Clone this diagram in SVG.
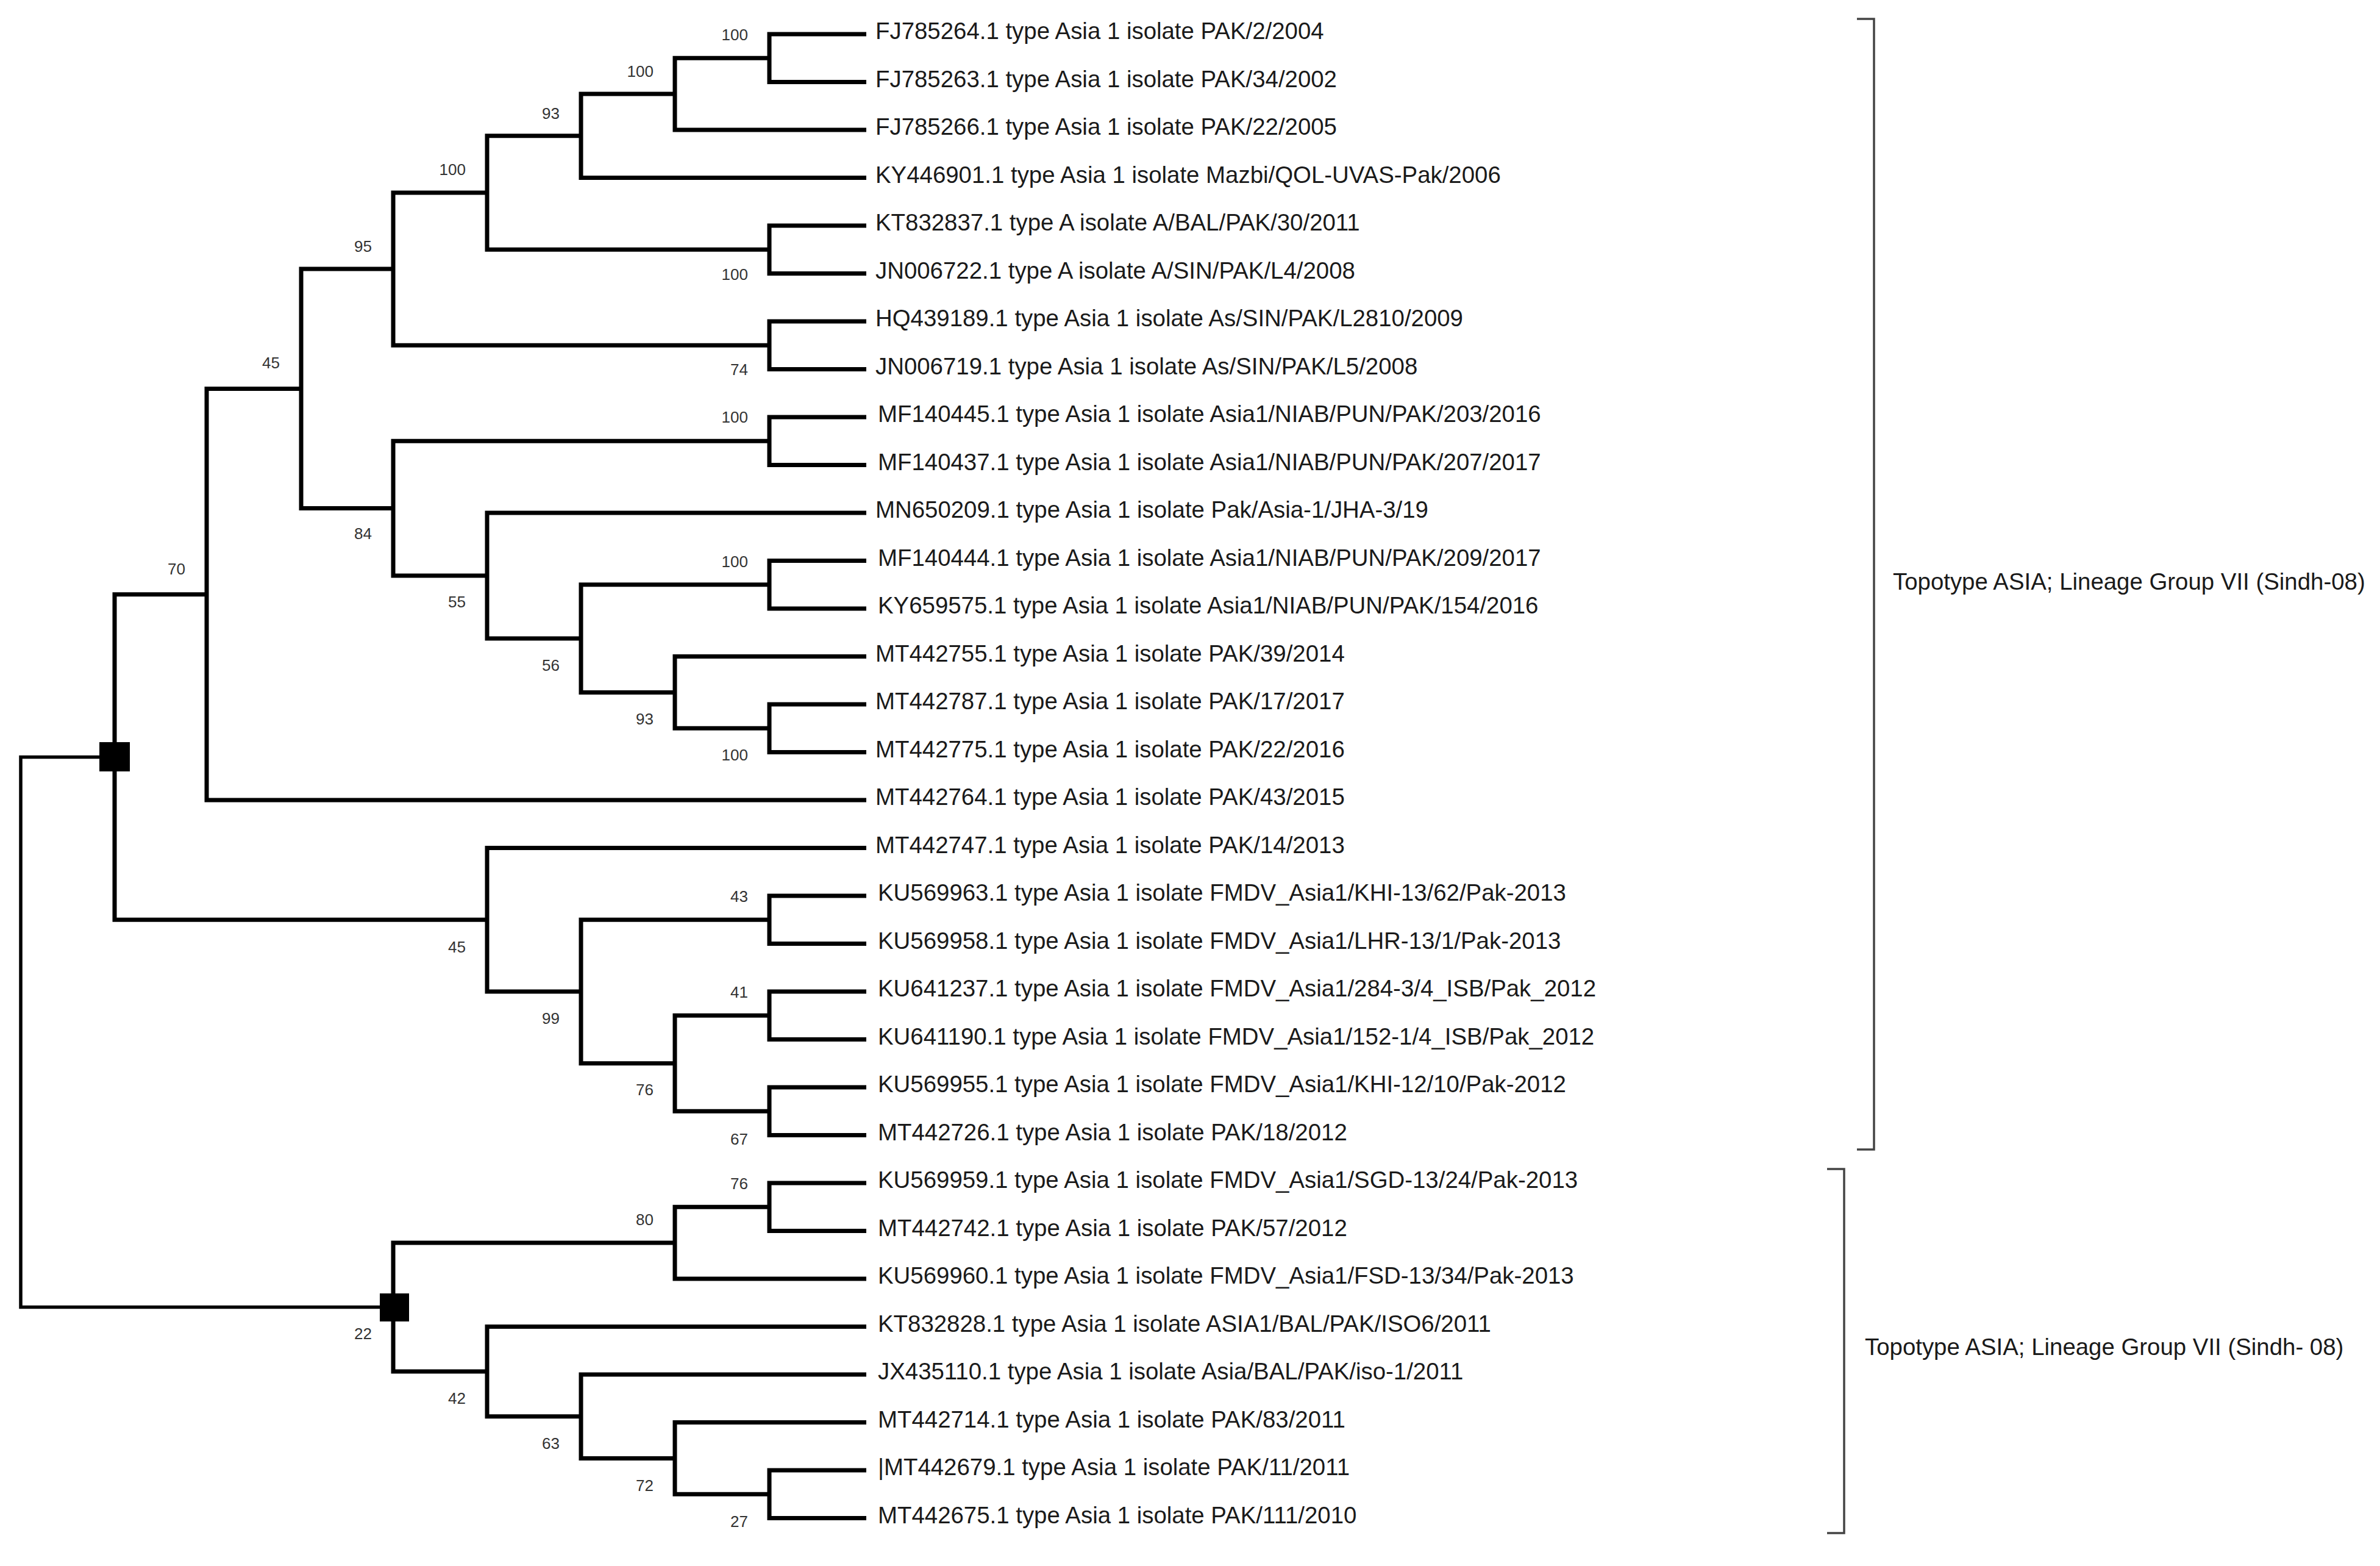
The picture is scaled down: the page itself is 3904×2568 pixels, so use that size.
<svg xmlns="http://www.w3.org/2000/svg" width="3904" height="2568" viewBox="0 0 3904 2568">
<style>
.br{fill:none;stroke:#000;stroke-width:7;stroke-linejoin:miter;stroke-linecap:butt}
.bk{fill:none;stroke:#444;stroke-width:3.5}
.lf{font-family:"Liberation Sans",Arial,sans-serif;font-size:38.4px;fill:#1a1a1a}
.bs{font-family:"Liberation Sans",Arial,sans-serif;font-size:26px;fill:#333;text-anchor:end}
.sq{fill:#000}
</style>
<rect width="3904" height="2568" fill="#fff"/>
<g id="connectors">
<path class="br" d="M1421,56 H1262 V134.5 H1421"/>
<path class="br" d="M1262,95.25 H1107 V213 H1421"/>
<path class="br" d="M1107,154.1 H953 V291.5 H1421"/>
<path class="br" d="M1421,370 H1262 V448.5 H1421"/>
<path class="br" d="M953,222.8 H799 V409.25 H1262"/>
<path class="br" d="M1421,527 H1262 V605.5 H1421"/>
<path class="br" d="M799,316 H645 V566.25 H1262"/>
<path class="br" d="M1421,684 H1262 V762.5 H1421"/>
<path class="br" d="M1421,919.5 H1262 V998 H1421"/>
<path class="br" d="M1421,1155 H1262 V1233.5 H1421"/>
<path class="br" d="M1421,1076.5 H1107 V1194.25 H1262"/>
<path class="br" d="M1262,958.75 H953 V1135.4 H1107"/>
<path class="br" d="M1421,841 H799 V1047.1 H953"/>
<path class="br" d="M1262,723.25 H645 V944 H799"/>
<path class="br" d="M645,441.1 H494 V833.6 H645"/>
<path class="br" d="M494,637.4 H339 V1312 H1421"/>
<path class="br" d="M1421,1469 H1262 V1547.5 H1421"/>
<path class="br" d="M1421,1626 H1262 V1704.5 H1421"/>
<path class="br" d="M1421,1783 H1262 V1861.5 H1421"/>
<path class="br" d="M1262,1665.25 H1107 V1822.25 H1262"/>
<path class="br" d="M1262,1508.25 H953 V1743.75 H1107"/>
<path class="br" d="M1421,1390.5 H799 V1626 H953"/>
<path class="br" d="M339,974.7 H188 V1508.25 H799"/>
<path class="br" d="M1421,1940 H1262 V2018.5 H1421"/>
<path class="br" d="M1262,1979.25 H1107 V2097 H1421"/>
<path class="br" d="M1421,2411 H1262 V2489.5 H1421"/>
<path class="br" d="M1421,2332.5 H1107 V2450.25 H1262"/>
<path class="br" d="M1421,2254 H953 V2391.4 H1107"/>
<path class="br" d="M1421,2175.5 H799 V2322.7 H953"/>
<path class="br" d="M1107,2038.1 H645 V2249.1 H799"/>
<path class="br" d="M188,1241.5 H34 V2143.6 H645" style="stroke-width:5.5"/>
</g>
<g id="internal-nodes">
<g id="n1"><text class="bs" x="1227" y="66">100</text></g>
<g id="n2"><text class="bs" x="1072" y="126">100</text></g>
<g id="n3"><text class="bs" x="918" y="195">93</text></g>
<g id="n4"><text class="bs" x="1227" y="459">100</text></g>
<g id="n5"><text class="bs" x="764" y="287">100</text></g>
<g id="n6"><text class="bs" x="1227" y="615">74</text></g>
<g id="n7"><text class="bs" x="610" y="413">95</text></g>
<g id="n8"><text class="bs" x="1227" y="693">100</text></g>
<g id="n9"><text class="bs" x="1227" y="930">100</text></g>
<g id="n10"><text class="bs" x="1227" y="1247">100</text></g>
<g id="n11"><text class="bs" x="1072" y="1188">93</text></g>
<g id="n12"><text class="bs" x="918" y="1100">56</text></g>
<g id="n13"><text class="bs" x="764" y="996">55</text></g>
<g id="n14"><text class="bs" x="610" y="884">84</text></g>
<g id="n15"><text class="bs" x="459" y="604">45</text></g>
<g id="n16"><text class="bs" x="304" y="942">70</text></g>
<g id="n17"><text class="bs" x="1227" y="1479">43</text></g>
<g id="n18"><text class="bs" x="1227" y="1636">41</text></g>
<g id="n19"><text class="bs" x="1227" y="1877">67</text></g>
<g id="n20"><text class="bs" x="1072" y="1796">76</text></g>
<g id="n21"><text class="bs" x="918" y="1679">99</text></g>
<g id="n22"><text class="bs" x="764" y="1562">45</text></g>
<g id="nA"><rect class="sq" x="163" y="1217" width="50" height="48"/></g>
<g id="n23"><text class="bs" x="1227" y="1950">76</text></g>
<g id="n24"><text class="bs" x="1072" y="2009">80</text></g>
<g id="n25"><text class="bs" x="1227" y="2504">27</text></g>
<g id="n26"><text class="bs" x="1072" y="2445">72</text></g>
<g id="n27"><text class="bs" x="918" y="2376">63</text></g>
<g id="n28"><text class="bs" x="764" y="2302">42</text></g>
<g id="nB"><rect class="sq" x="623" y="2121" width="48" height="46"/><text class="bs" x="610" y="2196">22</text></g>
</g>
<g id="leaves">
<g id="leaf1"><text class="lf" x="1436" y="64">FJ785264.1 type Asia 1 isolate PAK/2/2004</text></g>
<g id="leaf2"><text class="lf" x="1436" y="142.5">FJ785263.1 type Asia 1 isolate PAK/34/2002</text></g>
<g id="leaf3"><text class="lf" x="1436" y="221">FJ785266.1 type Asia 1 isolate PAK/22/2005</text></g>
<g id="leaf4"><text class="lf" x="1436" y="299.5">KY446901.1 type Asia 1 isolate Mazbi/QOL-UVAS-Pak/2006</text></g>
<g id="leaf5"><text class="lf" x="1436" y="378">KT832837.1 type A isolate A/BAL/PAK/30/2011</text></g>
<g id="leaf6"><text class="lf" x="1436" y="456.5">JN006722.1 type A isolate A/SIN/PAK/L4/2008</text></g>
<g id="leaf7"><text class="lf" x="1436" y="535">HQ439189.1 type Asia 1 isolate As/SIN/PAK/L2810/2009</text></g>
<g id="leaf8"><text class="lf" x="1436" y="613.5">JN006719.1 type Asia 1 isolate As/SIN/PAK/L5/2008</text></g>
<g id="leaf9"><text class="lf" x="1440" y="692">MF140445.1 type Asia 1 isolate Asia1/NIAB/PUN/PAK/203/2016</text></g>
<g id="leaf10"><text class="lf" x="1440" y="770.5">MF140437.1 type Asia 1 isolate Asia1/NIAB/PUN/PAK/207/2017</text></g>
<g id="leaf11"><text class="lf" x="1436" y="849">MN650209.1 type Asia 1 isolate Pak/Asia-1/JHA-3/19</text></g>
<g id="leaf12"><text class="lf" x="1440" y="927.5">MF140444.1 type Asia 1 isolate Asia1/NIAB/PUN/PAK/209/2017</text></g>
<g id="leaf13"><text class="lf" x="1440" y="1006">KY659575.1 type Asia 1 isolate Asia1/NIAB/PUN/PAK/154/2016</text></g>
<g id="leaf14"><text class="lf" x="1436" y="1084.5">MT442755.1 type Asia 1 isolate PAK/39/2014</text></g>
<g id="leaf15"><text class="lf" x="1436" y="1163">MT442787.1 type Asia 1 isolate PAK/17/2017</text></g>
<g id="leaf16"><text class="lf" x="1436" y="1241.5">MT442775.1 type Asia 1 isolate PAK/22/2016</text></g>
<g id="leaf17"><text class="lf" x="1436" y="1320">MT442764.1 type Asia 1 isolate PAK/43/2015</text></g>
<g id="leaf18"><text class="lf" x="1436" y="1398.5">MT442747.1 type Asia 1 isolate PAK/14/2013</text></g>
<g id="leaf19"><text class="lf" x="1440" y="1477">KU569963.1 type Asia 1 isolate FMDV_Asia1/KHI-13/62/Pak-2013</text></g>
<g id="leaf20"><text class="lf" x="1440" y="1555.5">KU569958.1 type Asia 1 isolate FMDV_Asia1/LHR-13/1/Pak-2013</text></g>
<g id="leaf21"><text class="lf" x="1440" y="1634">KU641237.1 type Asia 1 isolate FMDV_Asia1/284-3/4_ISB/Pak_2012</text></g>
<g id="leaf22"><text class="lf" x="1440" y="1712.5">KU641190.1 type Asia 1 isolate FMDV_Asia1/152-1/4_ISB/Pak_2012</text></g>
<g id="leaf23"><text class="lf" x="1440" y="1791">KU569955.1 type Asia 1 isolate FMDV_Asia1/KHI-12/10/Pak-2012</text></g>
<g id="leaf24"><text class="lf" x="1440" y="1869.5">MT442726.1 type Asia 1 isolate PAK/18/2012</text></g>
<g id="leaf25"><text class="lf" x="1440" y="1948">KU569959.1 type Asia 1 isolate FMDV_Asia1/SGD-13/24/Pak-2013</text></g>
<g id="leaf26"><text class="lf" x="1440" y="2026.5">MT442742.1 type Asia 1 isolate PAK/57/2012</text></g>
<g id="leaf27"><text class="lf" x="1440" y="2105">KU569960.1 type Asia 1 isolate FMDV_Asia1/FSD-13/34/Pak-2013</text></g>
<g id="leaf28"><text class="lf" x="1440" y="2183.5">KT832828.1 type Asia 1 isolate ASIA1/BAL/PAK/ISO6/2011</text></g>
<g id="leaf29"><text class="lf" x="1440" y="2262">JX435110.1 type Asia 1 isolate Asia/BAL/PAK/iso-1/2011</text></g>
<g id="leaf30"><text class="lf" x="1440" y="2340.5">MT442714.1 type Asia 1 isolate PAK/83/2011</text></g>
<g id="leaf31"><text class="lf" x="1440" y="2419">|MT442679.1 type Asia 1 isolate PAK/11/2011</text></g>
<g id="leaf32"><text class="lf" x="1440" y="2497.5">MT442675.1 type Asia 1 isolate PAK/111/2010</text></g>
</g>
<g id="clade-upper">
<path class="bk" d="M3046,31 H3074 V1885 H3046"/>
<text class="lf" x="3105" y="967">Topotype ASIA; Lineage Group VII (Sindh-08)</text>
</g>
<g id="clade-lower">
<path class="bk" d="M2997,1917 H3025 V2514 H2997"/>
<text class="lf" x="3059" y="2222">Topotype ASIA; Lineage Group VII (Sindh- 08)</text>
</g>
</svg>
